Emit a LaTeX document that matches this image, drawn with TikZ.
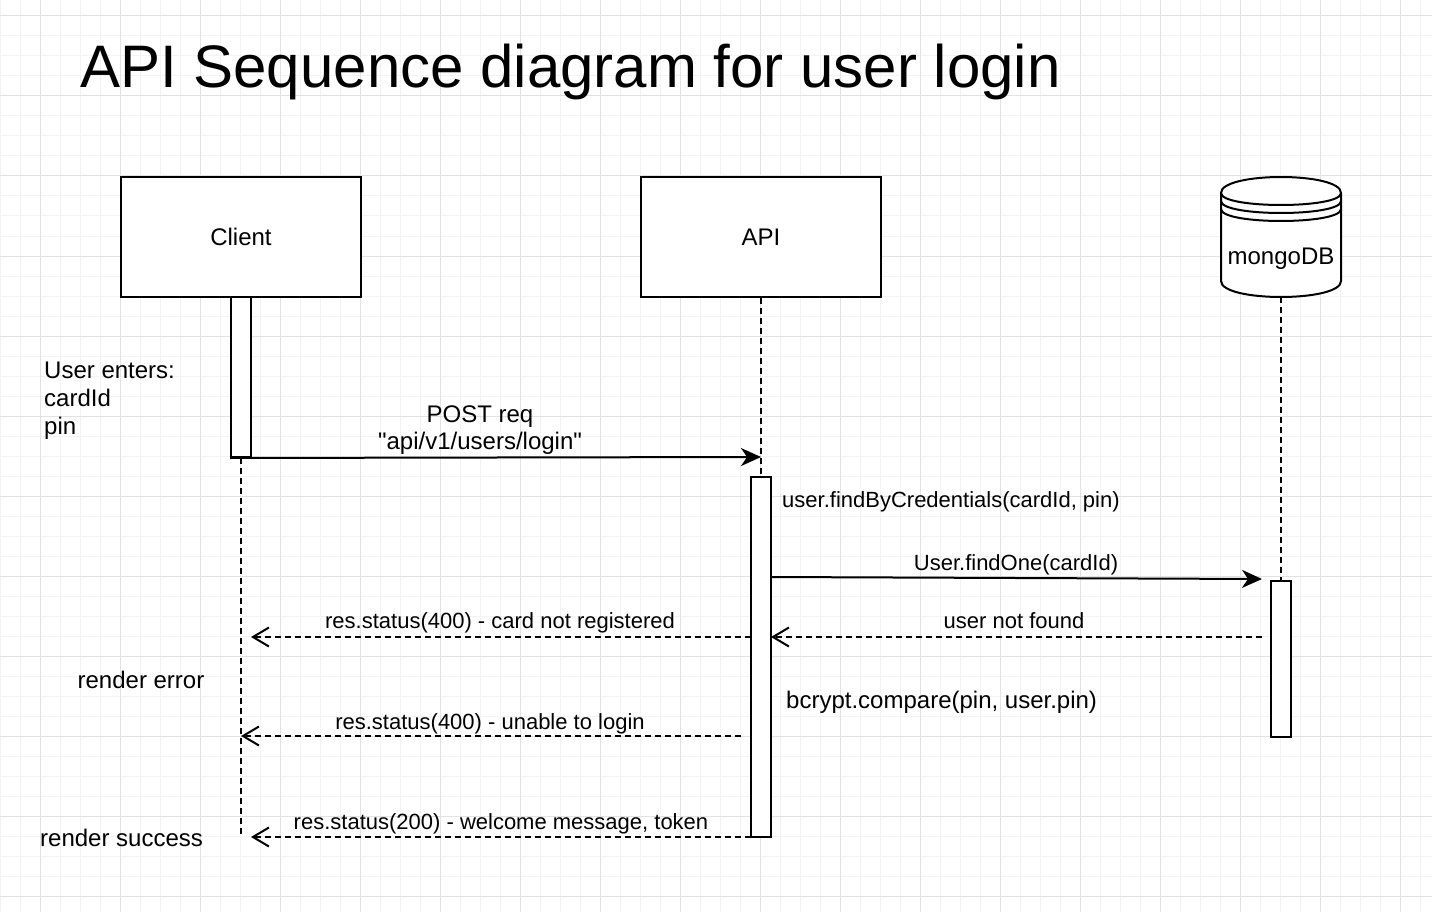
\documentclass[tikz,border=0pt]{standalone}
\usepackage{fontspec}
\setmainfont{Liberation Sans}
\usetikzlibrary{arrows.meta}
\definecolor{gridminor}{HTML}{F3F3F3}
\definecolor{gridmajor}{HTML}{E2E2E2}
\tikzset{
  gminor/.style={draw=gridminor, line width=1pt},
  gmajor/.style={draw=gridmajor, line width=1pt},
  actor/.style={draw, line width=2pt, fill=white, minimum width=240pt, minimum height=120pt, inner sep=0pt, font=\fontsize{24}{28}\selectfont},
  actbar/.style={draw, line width=2pt, fill=white, minimum width=20pt, inner sep=0pt},
  lifeline/.style={line width=2pt, dash pattern=on 6pt off 4pt},
  msg/.style={line width=2pt, -{Stealth[length=20pt, width=18pt, inset=6pt]}},
  ret/.style={line width=1.8pt, dash pattern=on 6pt off 4pt, -{Straight Barb[length=16pt, width=19pt, line width=2pt]}},
  lbl/.style={anchor=base, inner sep=0pt, font=\fontsize{22}{26}\selectfont},
  biglbl/.style={anchor=base, inner sep=0pt, font=\fontsize{24}{28}\selectfont},
  note/.style={anchor=base west, inner sep=0pt, font=\fontsize{24}{28}\selectfont},
}
\begin{document}
\begin{tikzpicture}[x=1pt, y=-1pt]
\useasboundingbox (0,0) rectangle (1432,912);
\fill[white] (0,0) rectangle (1432,912);
% grid
\foreach \x in {0,20,...,1420} \draw[gminor] (\x,0) -- (\x,912);
\foreach \y in {16,36,...,896} \draw[gminor] (0,\y) -- (1432,\y);
\foreach \x in {40,120,...,1400} \draw[gmajor] (\x,0) -- (\x,912);
\foreach \y in {16,96,...,896} \draw[gmajor] (0,\y) -- (1432,\y);

% title
\node[anchor=base west, inner sep=0pt, font=\fontsize{60}{70}\selectfont] (title) at (80,88) {API Sequence diagram for user login};

% actors
\node[actor] (client) at (241,237) {Client};
\node[actor] (api) at (761,237) {API};

% mongoDB datastore
\filldraw[fill=white, line width=2pt] (1221,193) .. controls (1221,171.67) and (1341,171.67) .. (1341,193)
  -- (1341,281) .. controls (1341,302.33) and (1221,302.33) .. (1221,281) -- cycle;
\draw[line width=2pt] (1221,193) .. controls (1221,209) and (1341,209) .. (1341,193);
\draw[line width=2pt] (1221,201) .. controls (1221,217) and (1341,217) .. (1341,201);
\draw[line width=2pt] (1221,209) .. controls (1221,225) and (1341,225) .. (1341,209);
\node[inner sep=0pt, font=\fontsize{24}{28}\selectfont] (mongo) at (1281,259) {mongoDB};
\coordinate (mongobot) at (1281,297);

% activation bars
\node[actbar, minimum height=160pt] (cbar) at (241,377) {};
\node[actbar, minimum height=360pt] (abar) at (761,657) {};
\node[actbar, minimum height=156pt] (mbar) at (1281,659) {};

% lifelines
\coordinate (cend) at (241,837);
\draw[lifeline] (cbar.south) -- (cend);
\draw[lifeline] (api.south) -- (abar.north);
\draw[lifeline] (mongobot) -- (mbar.north);
\draw[line width=2pt] (cbar.south west) -- (cbar.south east);

% message end points
\coordinate (postend) at (761,457);
\coordinate (f1) at (771,577);
\coordinate (f2) at (1262,579);
\coordinate (nf1) at (1262,637);
\coordinate (nf2) at (771,637);
\coordinate (cr1) at (751,637);
\coordinate (cr2) at (251,637);
\coordinate (ul1) at (741,736);
\coordinate (ul2) at (241,736);
\coordinate (ok1) at (751,837);
\coordinate (ok2) at (251,837);

% messages
\draw[msg] (cbar.south west) -- (postend);
\draw[msg] (f1) -- (f2);
\draw[ret] (nf1) -- (nf2);
\draw[ret] (cr1) -- (cr2);
\draw[ret] (ul1) -- (ul2);
\draw[ret] (ok1) -- (ok2);

% labels
\node[biglbl] (postl1) at (480,422) {POST req};
\node[biglbl] (postl2) at (480,449) {\textquotedbl api/v1/users/login\textquotedbl};
\node[lbl, anchor=base west] (findcred) at (782,507) {user.findByCredentials(cardId, pin)};
\node[lbl] (findone) at (1016,570) {User.findOne(cardId)};
\node[lbl] (notfound) at (1014,628) {user not found};
\node[lbl] (cardnr) at (500,628) {res.status(400) - card not registered};
\node[note] (bcrypt) at (786,708) {bcrypt.compare(pin, user.pin)};
\node[lbl] (unable) at (490,729) {res.status(400) - unable to login};
\node[lbl] (welcome) at (501,829) {res.status(200) - welcome message, token};

% side notes
\node[note] (ue1) at (44,378) {User enters:};
\node[note] (ue2) at (44,406) {cardId};
\node[note] (ue3) at (44,434) {pin};
\node[biglbl] (rerr) at (141,688) {render error};
\node[note] (rsucc) at (40,846) {render success};
\end{tikzpicture}
\end{document}
